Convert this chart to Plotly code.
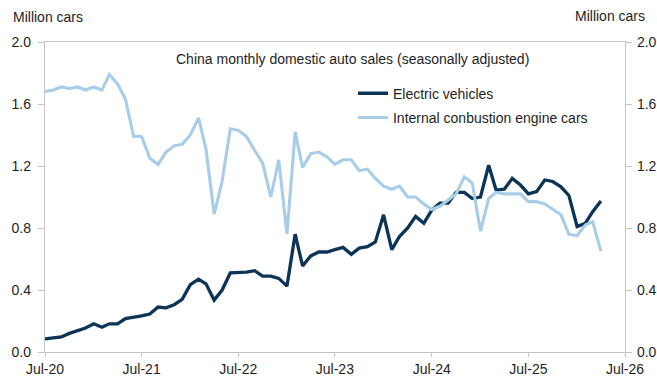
import pandas as pd
import plotly.graph_objects as go

# Monthly, seasonally adjusted domestic auto sales in China (million cars)
months = pd.date_range("2020-07-01", periods=70, freq="MS")

ev_sales = [
    0.085, 0.09, 0.097, 0.12, 0.14, 0.155, 0.182, 0.16, 0.182, 0.182,
    0.215, 0.222, 0.233, 0.245, 0.29, 0.285, 0.305, 0.34, 0.435, 0.47,
    0.44, 0.335, 0.40, 0.51, 0.51, 0.515, 0.525, 0.49, 0.49, 0.475,
    0.425, 0.76, 0.555, 0.62, 0.645, 0.645, 0.66, 0.675, 0.63, 0.67,
    0.68, 0.71, 0.885, 0.66, 0.745, 0.80, 0.875, 0.83, 0.915, 0.96,
    0.96, 1.03, 1.03, 0.99, 1.00, 1.205, 1.045, 1.05, 1.12, 1.077,
    1.02, 1.035, 1.11, 1.10, 1.066, 1.01, 0.81, 0.83, 0.905, 0.975,
]

ice_sales = [
    1.68, 1.69, 1.71, 1.70, 1.71, 1.69, 1.71, 1.69, 1.79, 1.73,
    1.63, 1.39, 1.39, 1.25, 1.21, 1.29, 1.33, 1.34, 1.40, 1.51,
    1.31, 0.89, 1.10, 1.44, 1.43, 1.39, 1.30, 1.22, 1.00, 1.24,
    0.76, 1.42, 1.19, 1.28, 1.29, 1.26, 1.21, 1.24, 1.24, 1.17,
    1.18, 1.12, 1.07, 1.05, 1.07, 1.00, 1.00, 0.955, 0.92, 0.94,
    0.98, 1.02, 1.13, 1.09, 0.78, 0.99, 1.03, 1.02, 1.02, 1.02,
    0.97, 0.97, 0.955, 0.92, 0.885, 0.76, 0.75, 0.82, 0.84, 0.65,
]

x_ticks = pd.date_range("2020-07-01", "2026-07-01", freq="12MS")
y_ticks = [0.0, 0.4, 0.8, 1.2, 1.6, 2.0]

EV_COLOR = "#0b3456"
ICE_COLOR = "#a7cde9"
AXIS_COLOR = "#c4c4c4"
TEXT_COLOR = "#1e1e1e"
FONT = "Liberation Sans, Arial, sans-serif"

# Plot area in pixels (used to place the free-floating text)
L, R, T, B = 45, 625, 42, 352
PW, PH = R - L, B - T


def px_x(x):
    return (x - L) / PW


def px_y(y):
    return (B - y) / PH


fig = go.Figure()
fig.add_trace(go.Scatter(
    x=months, y=ev_sales, mode="lines", name="Electric vehicles",
    line=dict(color=EV_COLOR, width=3.3), legendgroup="ev", yaxis="y",
))
fig.add_trace(go.Scatter(
    x=months, y=ice_sales, mode="lines", name="Internal conbustion engine cars",
    line=dict(color=ICE_COLOR, width=3.1), legendgroup="ice", yaxis="y2",
))

common_y = dict(
    range=[0, 2], tickvals=y_ticks, tickformat=".1f",
    showgrid=False, zeroline=False, showline=True,
    linecolor=AXIS_COLOR, linewidth=1.3,
    ticks="outside", ticklen=6, tickwidth=1.3, tickcolor=AXIS_COLOR,
    tickfont=dict(size=14, color=TEXT_COLOR, family=FONT),
    fixedrange=True, automargin=False,
)

fig.update_layout(
    width=657, height=381,
    margin=dict(l=L, r=657 - R, t=T, b=381 - B, autoexpand=False),
    paper_bgcolor="white", plot_bgcolor="white",
    font=dict(family=FONT, size=14, color=TEXT_COLOR),
    xaxis=dict(
        range=[x_ticks[0], x_ticks[-1]], tickvals=x_ticks, tickformat="%b-%y",
        showgrid=False, zeroline=False, showline=True, mirror=True,
        linecolor=AXIS_COLOR, linewidth=1.3,
        ticks="outside", ticklen=4, tickwidth=1.3, tickcolor=AXIS_COLOR,
        tickfont=dict(size=14, color=TEXT_COLOR, family=FONT),
        automargin=False,
    ),
    yaxis=dict(side="left", ticklabelstandoff=4, **common_y),
    yaxis2=dict(side="right", overlaying="y", ticklabelstandoff=2, **common_y),
    legend=dict(
        x=0.531, y=0.885, xanchor="left", yanchor="top",
        bgcolor="rgba(0,0,0,0)", borderwidth=0,
        font=dict(size=14, color=TEXT_COLOR, family=FONT),
        tracegroupgap=3, itemwidth=30,
    ),
    showlegend=True,
    annotations=[
        dict(text="China monthly domestic auto sales (seasonally adjusted)",
             xref="paper", yref="paper", x=px_x(174), y=px_y(59),
             xanchor="left", yanchor="middle", showarrow=False,
             font=dict(size=14, color=TEXT_COLOR)),
        dict(text="Million cars", xref="paper", yref="paper",
             x=px_x(11), y=px_y(17), xanchor="left", yanchor="middle",
             showarrow=False, font=dict(size=14, color=TEXT_COLOR)),
        dict(text="Million cars", xref="paper", yref="paper",
             x=px_x(647), y=px_y(16), xanchor="right", yanchor="middle",
             showarrow=False, font=dict(size=14, color=TEXT_COLOR)),
    ],
)

fig.write_html("out.html")
